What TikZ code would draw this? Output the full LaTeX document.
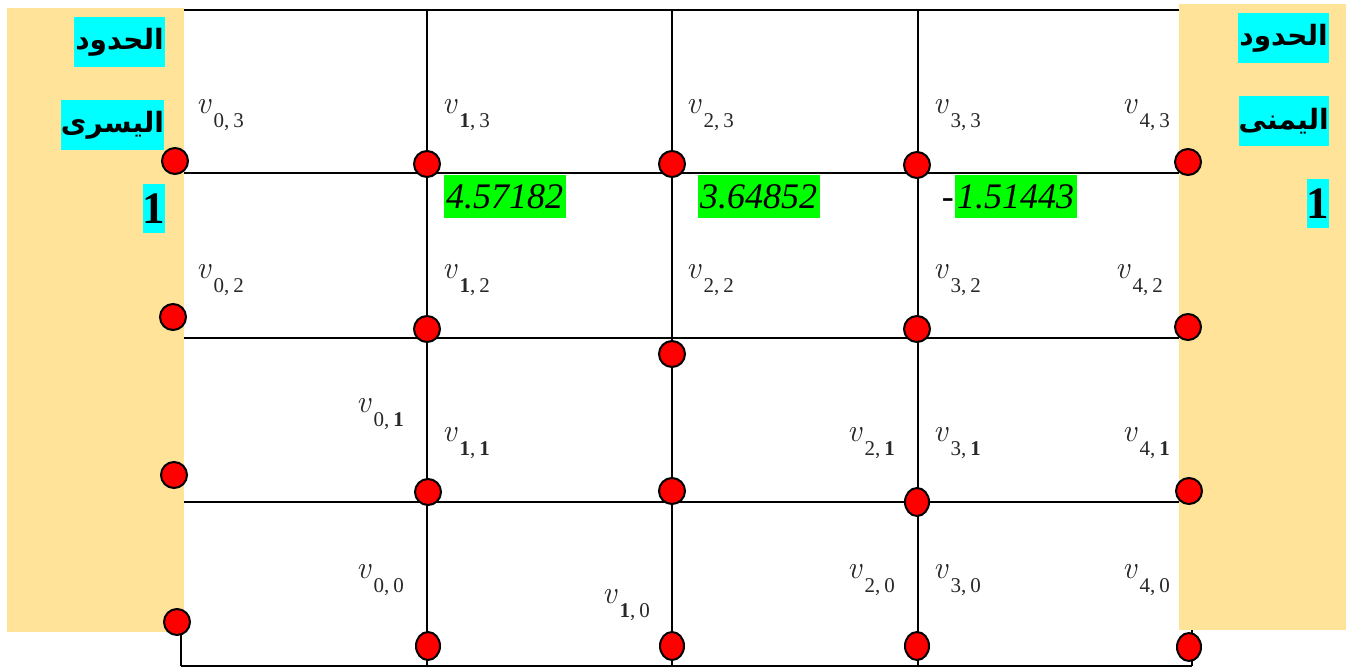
\documentclass[tikz,border=0pt]{standalone}
\usepackage{fontspec}
\usetikzlibrary{shapes.geometric}
\newfontfamily\timesf{Liberation Serif}
\newfontfamily\arabicfont[Script=Arabic]{DejaVu Sans}
\TeXXeTstate=1
\definecolor{panelbg}{RGB}{254,227,153}
\definecolor{cyanbg}{RGB}{0,255,255}
\definecolor{greenbg}{RGB}{0,255,0}
\definecolor{labgray}{RGB}{40,40,40}
\newcommand\vlab[2]{\color{labgray}{\fontsize{32}{32}\selectfont\itshape v}\kern3pt\raisebox{-14pt}{\timesf\fontsize{21}{21}\selectfont #1,\kern4pt#2}}
\newcommand\bo{\textbf{1}}
\newcommand\artxt[1]{\fontsize{28}{30}\selectfont\arabicfont\bfseries\beginR #1\endR}
\begin{document}
\begin{tikzpicture}[x=1pt,y=-1pt,
  gridline/.style={line width=2pt,black},
  dot/.style={circle,fill=red,draw=black,line width=2pt,minimum size=26pt,inner sep=0pt},
  edot/.style={ellipse,fill=red,draw=black,line width=2pt,minimum width=24pt,minimum height=28pt,inner sep=0pt},
  vl/.style={anchor=base west,inner sep=0pt},
  cbox/.style={fill=cyanbg,inner sep=0pt},
  gbox/.style={fill=greenbg,inner sep=0pt,minimum width=122pt,minimum height=43pt,font=\timesf\fontsize{36}{36}\selectfont\itshape},
]
\useasboundingbox (0,0) rectangle (1346,668);
% grid lines
\foreach \yy in {10,173,338,502,666} \draw[gridline] (181,\yy) -- (1192,\yy);
\foreach \xx in {181,427,672,918,1192} \draw[gridline] (\xx,10) -- (\xx,666);
% boundary panels
\fill[panelbg] (7,8) rectangle (184,632);
\fill[panelbg] (1179,4) rectangle (1346,630);
% cyan labels left
\node[cbox,minimum width=91pt,minimum height=50pt] (l1) at (119.5,42) {\artxt{الحدود}};
\node[cbox,minimum width=103pt,minimum height=50pt] (l2) at (112.5,125) {\artxt{اليسرى}};
\node[cbox,minimum width=22pt,minimum height=49pt,font=\timesf\fontsize{45}{45}\selectfont\bfseries] (l3) at (154,208.5) {1};
% cyan labels right
\node[cbox,minimum width=91pt,minimum height=50pt] (r1) at (1283.5,38) {\artxt{الحدود}};
\node[cbox,minimum width=84pt,minimum height=50pt,anchor=east] (r2) at (1329,121) {\artxt{اليمنى}};
\node[cbox,minimum width=22pt,minimum height=49pt,font=\timesf\fontsize{45}{45}\selectfont\bfseries] (r3) at (1318,204) {1};
% green values
\node[gbox] (g1) at (504.5,196.5) {4.57182};
\node[gbox] (g2) at (758.5,196.5) {3.64852};
\node[gbox] (g3) at (1015.5,196.5) {1.51443};
\node[anchor=base east,inner sep=0pt,font=\timesf\fontsize{36}{36}\selectfont\itshape] (minus) at (954,209) {-};
% points
\node[dot] (p03) at (175,161) {};
\node[dot] (p02) at (173,317) {};
\node[dot] (p01) at (174,475) {};
\node[dot] (p00) at (177,622) {};
\node[dot] (p13) at (427,164) {};
\node[dot] (p12) at (427,329) {};
\node[dot] (p11) at (428,492) {};
\node[edot] (p10) at (428,646) {};
\node[dot] (p23) at (672,164) {};
\node[dot] (p22) at (672,354) {};
\node[dot] (p21) at (672,491) {};
\node[edot] (p20) at (672,646) {};
\node[dot] (p33) at (917,165) {};
\node[dot] (p32) at (917,329) {};
\node[edot] (p31) at (917,502) {};
\node[edot] (p30) at (917,646) {};
\node[dot] (p43) at (1188,162) {};
\node[dot] (p42) at (1188,327) {};
\node[dot] (p41) at (1189,491) {};
\node[edot] (p40) at (1189,647) {};
% labels
\node[vl] (v03) at (196,114) {\vlab{0}{3}};
\node[vl] (v13) at (442,114) {\vlab{\bo}{3}};
\node[vl] (v23) at (686,114) {\vlab{2}{3}};
\node[vl] (v33) at (933,114) {\vlab{3}{3}};
\node[vl] (v43) at (1122,114) {\vlab{4}{3}};
\node[vl] (v02) at (196,279) {\vlab{0}{2}};
\node[vl] (v12) at (442,279) {\vlab{\bo}{2}};
\node[vl] (v22) at (686,279) {\vlab{2}{2}};
\node[vl] (v32) at (933,279) {\vlab{3}{2}};
\node[vl] (v42) at (1115,279) {\vlab{4}{2}};
\node[vl] (v01) at (356,412) {\vlab{0}{\bo}};
\node[vl] (v11) at (442,441) {\vlab{\bo}{\bo}};
\node[vl] (v21) at (847,441) {\vlab{2}{\bo}};
\node[vl] (v31) at (933,441) {\vlab{3}{\bo}};
\node[vl] (v41) at (1122,441) {\vlab{4}{\bo}};
\node[vl] (v00) at (356,578) {\vlab{0}{0}};
\node[vl] (v10) at (602,603) {\vlab{\bo}{0}};
\node[vl] (v20) at (847,578) {\vlab{2}{0}};
\node[vl] (v30) at (933,578) {\vlab{3}{0}};
\node[vl] (v40) at (1122,578) {\vlab{4}{0}};
\end{tikzpicture}
\end{document}
